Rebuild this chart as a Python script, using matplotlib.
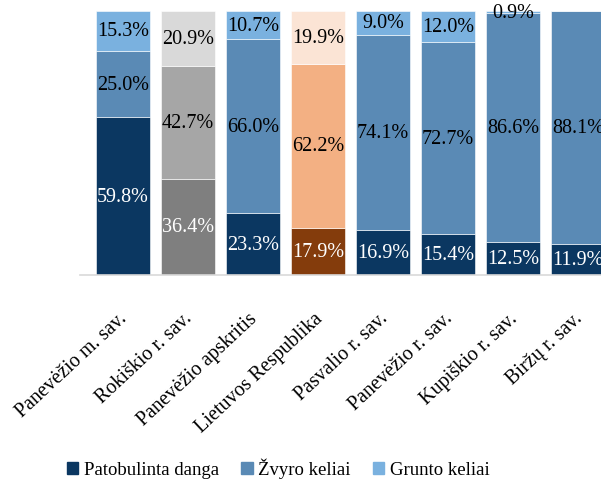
import numpy as np
import matplotlib.pyplot as plt

plt.rcParams['font.family'] = ['Liberation Serif', 'DejaVu Serif']

regions = ['Panevėžio m. sav.', 'Rokiškio r. sav.', 'Panevėžio apskritis',
           'Lietuvos Respublika', 'Pasvalio r. sav.', 'Panevėžio r. sav.',
           'Kupiškio r. sav.', 'Biržų r. sav.']
patobulinta = [59.8, 36.4, 23.3, 17.9, 16.9, 15.4, 12.5, 11.9]
zvyro = [25.0, 42.7, 66.0, 62.2, 74.1, 72.7, 86.6, 88.1]
grunto = [15.3, 20.9, 10.7, 19.9, 9.0, 12.0, 0.9, 0.0]
series_names = ['Patobulinta danga', 'Žvyro keliai', 'Grunto keliai']

blue = ['#0b3761', '#5a8ab5', '#7ab1df']
gray = ['#7f7f7f', '#a6a6a6', '#d9d9d9']
orange = ['#843c0c', '#f3b083', '#fbe4d5']
bar_colors = [blue, gray, blue, orange, blue, blue, blue, blue]

fig = plt.figure(figsize=(6.01, 4.81), dpi=100)
ax = fig.add_axes([80 / 601, 1 - 276 / 481, 1 - 80 / 601, (276 - 12) / 481])

x = np.arange(len(regions))
w = 0.83
values = np.array([patobulinta, zvyro, grunto])
bottoms = np.vstack([np.zeros(len(regions)), np.cumsum(values, axis=0)[:-1]])

for s in range(3):
    cols = [bar_colors[i][s] for i in range(len(regions))]
    ax.bar(x, values[s], w, bottom=bottoms[s], color=cols,
           edgecolor='white', linewidth=0.4, label=series_names[s])
    for i in range(len(regions)):
        v = values[s][i]
        if v <= 0:
            continue
        tc = 'white' if s == 0 else 'black'
        ax.text(x[i], bottoms[s][i] + v / 2, f'{v:.1f}%', ha='center',
                va='center', fontsize=14.5, color=tc)

ax.set_xlim(-0.66, 7.35)
ax.set_ylim(0, 100)
ax.set_yticks([])
ax.set_xticks(x - 0.07)
ax.set_xticklabels(regions, rotation=43, ha='right', rotation_mode='anchor',
                   fontsize=14.5)
ax.tick_params(axis='x', length=0, pad=24)
for sp in ['top', 'right', 'left']:
    ax.spines[sp].set_visible(False)
ax.spines['bottom'].set_color('#d9d9d9')
ax.spines['bottom'].set_linewidth(1.2)

handles = [plt.Rectangle((0, 0), 1, 1, color=c) for c in blue]
fig.legend(handles, series_names, loc='center', bbox_to_anchor=(0.463, 1 - 469 / 481),
           ncol=3, frameon=False, fontsize=13.5, handlelength=0.6, handleheight=0.6,
           handletextpad=0.3, columnspacing=1.2)

fig.savefig('out.png', dpi=100)
